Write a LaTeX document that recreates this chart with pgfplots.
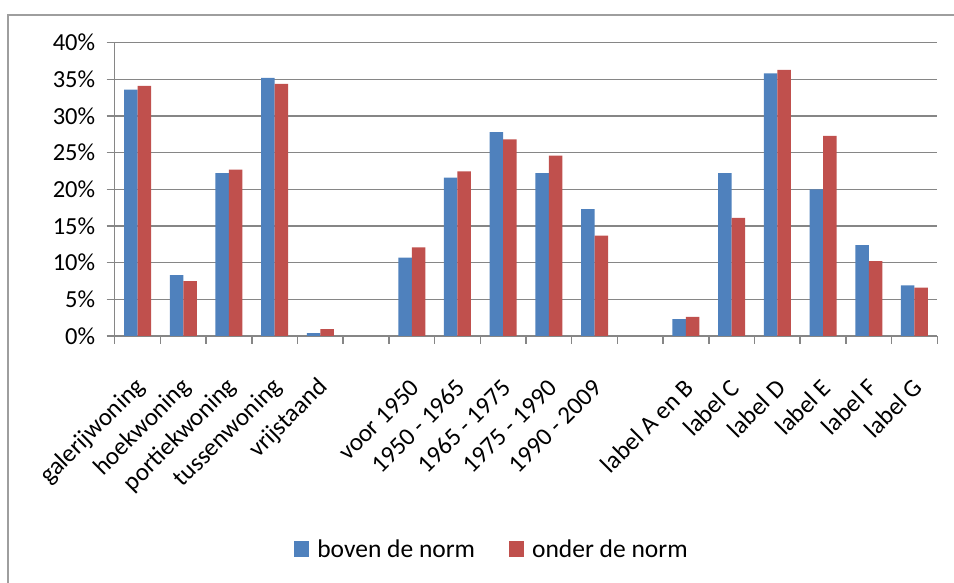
\documentclass[border=0pt]{standalone}
\usepackage{fontspec}
\setmainfont{Carlito}
\usepackage{pgfplots}
\pgfplotsset{compat=1.18}
\definecolor{cblue}{HTML}{4F81BD}
\definecolor{cred}{HTML}{C0504D}
\definecolor{cgrid}{HTML}{868686}
\begin{document}
\begin{tikzpicture}
\path[use as bounding box] (0,0) rectangle (954pt,583pt);
\draw[cgrid!80, line width=1.3pt] (8pt,0pt) -- (8pt,568pt) -- (954pt,568pt);
\begin{axis}[
  at={(114.7pt,247pt)}, anchor=south west,
  scale only axis, width=822.6pt, height=293.3pt,
  ybar=0pt, bar width=13.5pt,
  xmin=-0.5, xmax=17.5, ymin=0, ymax=40,
  axis x line*=bottom, axis y line*=left,
  axis line style={cgrid, line width=1.5pt},
  ytick={0,5,...,40},
  yticklabel={\pgfmathprintnumber{\tick}\%},
  /pgf/number format/assume math mode=true,
  ymajorgrids, grid style={cgrid, line width=1.5pt},
  major tick length=8pt, minor tick length=8pt,
  tick align=outside,
  tick style={cgrid, line width=1.5pt},
  xtick={0,...,17},
  x tick style={draw=none},
  minor xtick={-0.5,0.5,...,17.5},
  minor x tick style={cgrid, line width=1.5pt, draw},
  xticklabels={galerijwoning,hoekwoning,portiekwoning,tussenwoning,vrijstaand,,voor 1950,1950 - 1965,1965 - 1975,1975 - 1990,1990 - 2009,,label A en B,label C,label D,label E,label F,label G},
  xticklabel style={xshift=6pt, yshift=-37pt, rotate=45, anchor=east, font=\fontsize{25}{28}\selectfont},
  yticklabel style={font=\fontsize{24.5}{30}\selectfont, xshift=-8pt},
  legend columns=2,
  legend style={at={(0.4587,-0.726)}, anchor=center, draw=none, fill=none,
    font=\fontsize{25.5}{30}\selectfont,
    /tikz/every odd column/.append style={column sep=6pt},
    /tikz/every even column/.append style={column sep=32pt}},
  legend image code/.code={\fill[#1] (0pt,-8pt) rectangle (15pt,8pt);},
]
\addplot[fill=cblue, draw=none] coordinates {
(0,33.6) (1,8.3) (2,22.2) (3,35.2) (4,0.4)
(6,10.7) (7,21.6) (8,27.8) (9,22.2) (10,17.3)
(12,2.3) (13,22.2) (14,35.8) (15,20.0) (16,12.4) (17,6.9)};
\addplot[fill=cred, draw=none] coordinates {
(0,34.1) (1,7.5) (2,22.7) (3,34.4) (4,0.95)
(6,12.1) (7,22.45) (8,26.8) (9,24.6) (10,13.7)
(12,2.6) (13,16.1) (14,36.3) (15,27.3) (16,10.2) (17,6.6)};
\legend{boven de norm, onder de norm}
\end{axis}
\end{tikzpicture}
\end{document}
